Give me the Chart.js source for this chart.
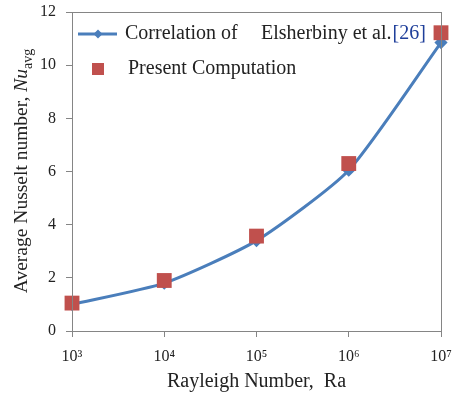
<!DOCTYPE html>
<html>
<head>
<meta charset="utf-8">
<script src="https://cdn.jsdelivr.net/npm/chart.js@4"></script>
<style>
  html, body { margin: 0; padding: 0; background: #fff; }
  #wrap { width: 452px; height: 398px; }
</style>
</head>
<body>
<div id="wrap"><canvas id="nuChart" width="452" height="398"></canvas></div>
<script>
// Rayleigh numbers on the x axis
const rayleigh = [1e3, 1e4, 1e5, 1e6, 1e7];
// Correlation of Elsherbiny et al. [26]
const correlationNu = [1.0, 1.8, 3.4, 6.05, 10.85];
// Present computation
const presentNu = [1.05, 1.9, 3.57, 6.3, 11.22];
const yTicks = [0, 2, 4, 6, 8, 10, 12];
const supers = { 3: '\u00b3', 4: '\u2074', 5: '\u2075', 6: '\u2076', 7: '\u2077' };

const serif = '"Liberation Serif", "DejaVu Serif", serif';
const blue = '#4a7ebb';
const red = '#c0504d';
const axisColor = '#858585';

// draws the frame, y title and the legend inside the plot
const extrasPlugin = {
  id: 'extras',
  afterDraw(chart) {
    const ctx = chart.ctx;
    const a = chart.chartArea;
    ctx.save();
    ctx.strokeStyle = axisColor;
    ctx.lineWidth = 1;
    ctx.strokeRect(Math.round(a.left) + 0.5, Math.round(a.top) + 0.5,
      Math.round(a.right - a.left), Math.round(a.bottom - a.top));

    // y axis title with italic Nu and subscript avg
    ctx.translate(22, 171);
    ctx.rotate(-Math.PI / 2);
    ctx.fillStyle = '#222';
    ctx.textBaseline = 'middle';
    const t1 = 'Average Nusselt number, ';
    ctx.font = '19.5px ' + serif;
    const w1 = ctx.measureText(t1).width;
    ctx.font = 'italic 19.5px ' + serif;
    const w2 = ctx.measureText('Nu').width;
    ctx.font = '14px ' + serif;
    const w3 = ctx.measureText('avg').width;
    let x = -(w1 + w2 + w3) / 2;
    ctx.font = '19.5px ' + serif;
    ctx.fillText(t1, x, 0); x += w1;
    ctx.font = 'italic 19.5px ' + serif;
    ctx.fillText('Nu', x, 0); x += w2;
    ctx.font = '14px ' + serif;
    ctx.fillText('avg', x, 6);
    ctx.restore();

    // legend
    ctx.save();
    ctx.textBaseline = 'middle';
    ctx.font = '20px ' + serif;
    ctx.strokeStyle = blue;
    ctx.lineWidth = 3;
    ctx.beginPath();
    ctx.moveTo(78, 34); ctx.lineTo(117, 34);
    ctx.stroke();
    ctx.fillStyle = blue;
    ctx.beginPath();
    ctx.moveTo(98, 29.5); ctx.lineTo(102.5, 34); ctx.lineTo(98, 38.5); ctx.lineTo(93.5, 34);
    ctx.closePath(); ctx.fill();
    ctx.fillStyle = '#222';
    ctx.fillText('Correlation of', 125, 34);
    const tx = 261;
    ctx.fillText('Elsherbiny et al.', tx, 34);
    const ew = ctx.measureText('Elsherbiny et al.').width;
    ctx.fillStyle = '#1f3f9a';
    ctx.fillText('[26]', tx + ew + 1, 34);

    ctx.fillStyle = red;
    ctx.fillRect(92, 63, 12, 12);
    ctx.fillStyle = '#222';
    ctx.fillText('Present Computation', 128, 69);
    ctx.restore();
  }
};

const chart = new Chart(document.getElementById('nuChart'), {
  type: 'line',
  data: {
    datasets: [
      {
        label: 'Present Computation',
        data: rayleigh.map((r, i) => ({ x: r, y: presentNu[i] })),
        showLine: false,
        clip: false,
        pointStyle: 'rect',
        pointRadius: 10.5,
        pointBackgroundColor: red,
        pointBorderColor: red,
        pointBorderWidth: 0,
        order: 0
      },
      {
        label: 'Correlation of Elsherbiny et al.[26]',
        data: rayleigh.map((r, i) => ({ x: r, y: correlationNu[i] })),
        clip: false,
        borderColor: blue,
        borderWidth: 3,
        tension: 0.2,
        pointStyle: 'rectRot',
        pointRadius: 4.5,
        pointBackgroundColor: blue,
        pointBorderColor: blue,
        order: 1
      }
    ]
  },
  options: {
    responsive: false,
    animation: false,
    layout: { padding: { top: 12, right: 11, left: 0, bottom: 0 } },
    plugins: { legend: { display: false }, tooltip: { enabled: false } },
    scales: {
      x: {
        type: 'logarithmic',
        min: 1e3,
        max: 1e7,
        afterBuildTicks(scale) {
          scale.ticks = rayleigh.map(v => ({ value: v }));
        },
        afterFit(scale) {
          scale.height = 67;
          scale.paddingLeft = 0;
          scale.paddingRight = 0;
        },
        border: { color: axisColor, width: 1 },
        grid: { drawOnChartArea: false, drawTicks: true, tickLength: 6, color: axisColor },
        ticks: {
          color: '#222',
          font: { family: serif, size: 16 },
          padding: 10,
          maxRotation: 0,
          callback(v) {
            const e = Math.round(Math.log10(v));
            return '10' + supers[e];
          }
        },
        title: {
          display: true,
          text: 'Rayleigh Number,  Ra',
          color: '#222',
          font: { family: serif, size: 20 },
          padding: { top: 2 }
        }
      },
      y: {
        min: 0,
        max: 12,
        afterBuildTicks(scale) {
          scale.ticks = yTicks.map(v => ({ value: v }));
        },
        afterFit(scale) {
          scale.width = 72;
          scale.paddingTop = 0;
          scale.paddingBottom = 0;
        },
        border: { color: axisColor, width: 1 },
        grid: { drawOnChartArea: false, drawTicks: true, tickLength: 6, color: axisColor },
        ticks: {
          color: '#222',
          font: { family: serif, size: 16 },
          padding: 10
        }
      }
    }
  },
  plugins: [extrasPlugin]
});
</script>
</body>
</html>
